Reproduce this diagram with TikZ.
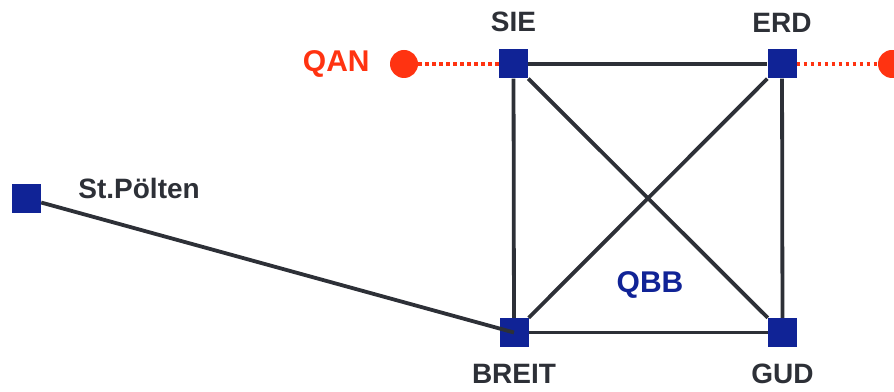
\documentclass[tikz,border=0pt]{standalone}
\usepackage{fontspec}
\setmainfont{Liberation Sans}
\usepackage{xcolor}
\usepackage{tikz}
\usetikzlibrary{positioning}
\definecolor{netblue}{RGB}{16,35,150}
\definecolor{netred}{RGB}{255,51,17}
\definecolor{linkgray}{RGB}{45,48,55}
\tikzstyle{station} = [rectangle, minimum size=29pt, inner sep=0pt, fill=netblue]
\tikzstyle{peer} = [circle, minimum size=28pt, inner sep=0pt, fill=netred]
\tikzstyle{link} = [line width=3.8pt, draw=linkgray]
\tikzstyle{peerlink} = [line width=3.5pt, draw=netred, dash pattern=on 3.5pt off 3.5pt]

\begin{document}
\begin{tikzpicture}[x=1pt, y=1pt]
    \tikzstyle{sitename} = [inner sep=0pt, text=linkgray, font=\fontsize{28}{31}\bfseries\selectfont]
    \tikzstyle{grouplabel} = [inner sep=0pt, font=\fontsize{30}{33}\bfseries\selectfont]
    \useasboundingbox (0,0) rectangle (894,391);

    % Nodes
    \node (sie) [station] at (513.5,327) {};
    \node (erd) [station] at (782,327) {};
    \node (breit) [station] at (514,58.5) {};
    \node (gud) [station] at (782.5,58.5) {};
    \node (stp) [station] at (26.5,192.5) {};
    \node (qan) [peer] at (404,327) {};
    \node (qaneast) [peer] at (892,327) {};

    % Labels
    \node (siename) [sitename, above=17pt of sie] {SIE};
    \node (erdname) [sitename, above=17pt of erd] {ERD};
    \node (breitname) [sitename, below=17pt of breit] {BREIT};
    \node (gudname) [sitename, below=17pt of gud] {GUD};
    \node (stpname) [sitename, right=37pt of stp, yshift=10pt] {St.Pölten};
    \node (qanname) [grouplabel, text=netred, left=20pt of qan] {QAN};
    \node (qbbname) [grouplabel, text=netblue, anchor=base] at (650,98) {QBB};

    % Links
    \draw[link] (sie) -- (erd);
    \draw[link] (sie) -- (breit);
    \draw[link] (sie) -- (gud);
    \draw[link] (erd) -- (breit);
    \draw[link] (erd) -- (gud);
    \draw[link] (breit) -- (gud);
    \draw[link] (stp) -- (breit.center);
    \draw[peerlink] (qan) -- (sie);
    \draw[peerlink] (erd) -- (qaneast);

\end{tikzpicture}
\end{document}
